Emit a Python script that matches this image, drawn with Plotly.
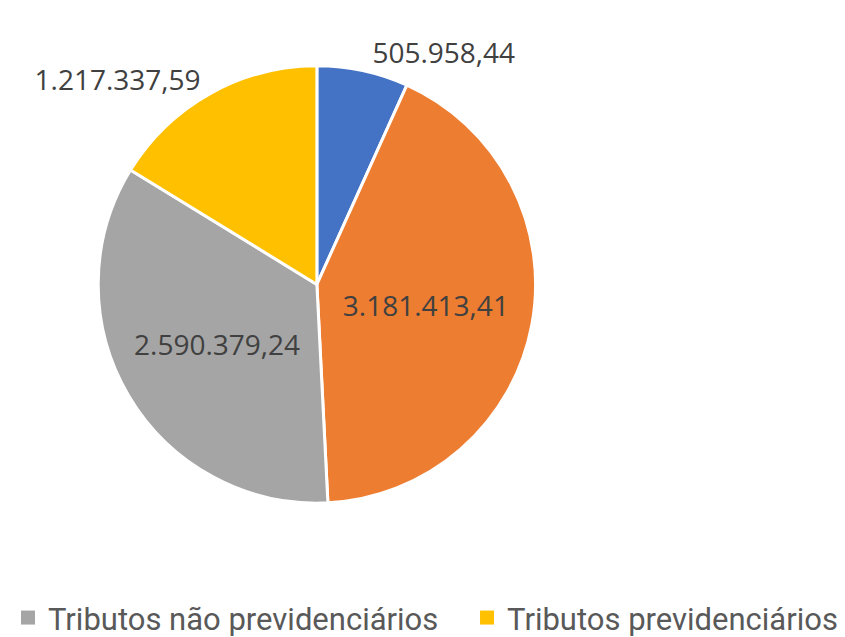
import plotly.graph_objects as go

# slices in clockwise order starting at 12 o'clock
categories = ["Série 1", "Série 2", "Tributos não previdenciários", "Tributos previdenciários"]
values = [505958.44, 3181413.41, 2590379.24, 1217337.59]
colors = ["#4472C4", "#ED7D31", "#A5A5A5", "#FFC000"]
legend_items = ["Tributos não previdenciários", "Tributos previdenciários"]


def fmt_br(v):
    # 1234567.89 -> 1.234.567,89
    s = f"{v:,.2f}"
    return s.replace(",", "X").replace(".", ",").replace("X", ".")


positions = ["outside", "inside", "inside", "outside"]
labels_txt = [fmt_br(v) for v in values]

FONT = "Open Sans, sans-serif"
LEG_FONT = "Roboto, sans-serif"

fig = go.Figure()
fig.add_trace(go.Pie(
    labels=categories,
    values=values,
    sort=False,
    direction="clockwise",
    rotation=0,
    marker=dict(colors=colors, line=dict(color="white", width=3)),
    text=labels_txt,
    textinfo="text",
    textposition=positions,
    insidetextorientation="horizontal",
    textfont=dict(family=FONT, size=28, color="#404040"),
    showlegend=False,
    automargin=False,
    domain=dict(x=[0.075, 0.611], y=[0.205, 0.923]),
))

# legend entries (only these two are visible in the reference), one legend box each
for i, name in enumerate(legend_items):
    c = colors[categories.index(name)]
    fig.add_trace(go.Scatter(
        x=[None], y=[None], mode="markers", name=name,
        marker=dict(symbol="square", size=14, color=c),
        legend="legend" if i == 0 else "legend2",
    ))

leg_style = dict(
    orientation="h", yanchor="middle", y=0.038, xanchor="left",
    font=dict(family=LEG_FONT, size=31, color="#595959"),
    itemwidth=30, bgcolor="rgba(0,0,0,0)",
)

fig.update_layout(
    width=845, height=637,
    margin=dict(l=0, r=0, t=0, b=0),
    paper_bgcolor="white", plot_bgcolor="white",
    xaxis=dict(visible=False), yaxis=dict(visible=False),
    legend=dict(x=-0.036, **leg_style),
    legend2=dict(x=0.527, **leg_style),
    font=dict(family=FONT),
)

fig.write_html("out.html")
